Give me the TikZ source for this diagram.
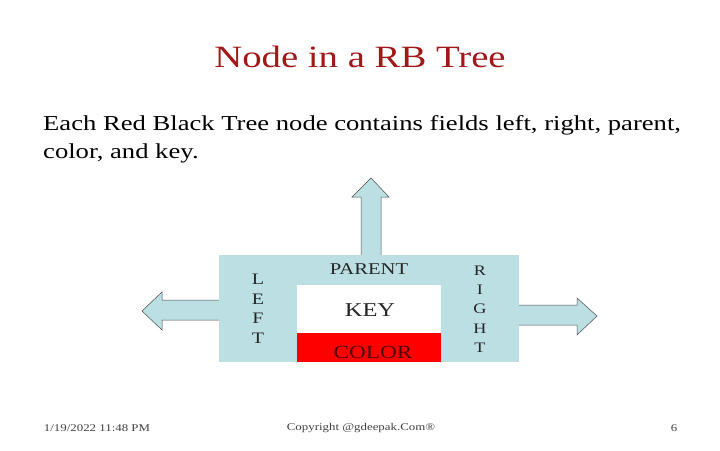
\documentclass[tikz,border=0pt]{standalone}
\usepackage{fontspec}
\setmainfont{Liberation Serif}[FakeStretch=1.25]
\definecolor{lb}{HTML}{BBDFE3}
\definecolor{tred}{HTML}{A01818}
\begin{document}
\begin{tikzpicture}[x=1pt,y=-1pt,
  arr/.style={fill=lb,draw=black!70,line width=0.5pt,line join=miter},
  lbl/.style={font=\fontsize{16.5}{16.5}\selectfont,text=black!85,inner sep=0},
  txt/.style={anchor=west,inner sep=0,font=\fontsize{21.3}{21.3}\selectfont}]
\useasboundingbox (0,0) rectangle (720,450);
\node[text=tred,font=\fontsize{31}{31}\selectfont] (title) at (360,57) {Node in a RB Tree};
\node[txt] (l1) at (43,125) {Each Red Black Tree node contains fields left, right, parent,};
\node[txt] (l2) at (43,153) {color, and key.};
% arrows
\draw[arr] (361,256) -- (361,197) -- (352,197) -- (371,178) -- (389,197) -- (381,197) -- (381,256);
\draw[arr] (220,300) -- (162,300) -- (162,292) -- (142,311) -- (162,330) -- (162,320) -- (220,320);
\draw[arr] (518,305) -- (577,305) -- (577,298) -- (597,316) -- (577,335) -- (577,325) -- (518,325);
\fill[lb] (219,255) rectangle (519,362);
\fill[white] (297,285) rectangle (441,333);
\fill[red] (297,333) rectangle (441,362);
\node[lbl] (parent) at (369,269) {PARENT};
\node[lbl,font=\fontsize{19.6}{19.6}\selectfont] (key) at (370,310) {KEY};
\node[lbl,text=black!70!red,font=\fontsize{18.6}{18.6}\selectfont] (color) at (373,352) {COLOR};
\node[lbl,align=center,font=\fontsize{16}{19.5}\selectfont] (left) at (258,309) {L\\E\\F\\T};
\node[lbl,align=center,font=\fontsize{14.5}{19.3}\selectfont] (right) at (480,309) {R\\I\\G\\H\\T};
\node[font=\fontsize{10.3}{10.3}\selectfont,text=black!75] (date) at (97,428) {1/19/2022 11:48 PM};
\node[font=\fontsize{10.3}{10.3}\selectfont,text=black!75] (copy) at (361,428) {Copyright @gdeepak.Com®};
\node[font=\fontsize{10.3}{10.3}\selectfont,text=black!75] (pg) at (674,428) {6};
\end{tikzpicture}
\end{document}
